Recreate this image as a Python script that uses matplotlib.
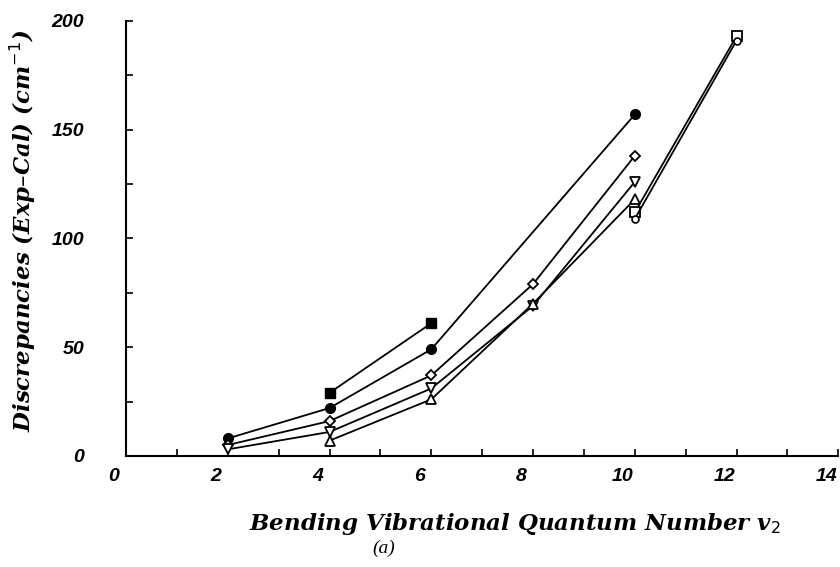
import matplotlib
matplotlib.use("Agg")
import matplotlib.pyplot as plt
import matplotlib.transforms as mtransforms
from matplotlib.ticker import MultipleLocator

# bending quantum number v2 and discrepancies (exp - cal), cm-1
x_fsquare = [4, 6]
y_fsquare = [29, 61]

x_fcircle = [2, 4, 6, 10]
y_fcircle = [8, 22, 49, 157]

x_diamond = [2, 4, 6, 8, 10]
y_diamond = [5, 16, 37, 79, 138]

x_dtri = [2, 4, 6, 8, 10]
y_dtri = [3, 11, 31, 69, 126]

x_utri = [4, 6, 8, 10]
y_utri = [7, 26, 70, 118]

x_osquare = [10, 12]
y_osquare = [112, 193]

x_ocircle = [10, 12]
y_ocircle = [109, 191]

fig = plt.figure(figsize=(8.4, 5.67), dpi=100)
ax = fig.add_axes([0.15, 0.196, 0.848, 0.767])

lw = 1.3
ms = 6.5
ax.plot(x_fsquare, y_fsquare, "-s", color="black", lw=lw, ms=ms, mfc="black")
ax.plot(x_fcircle, y_fcircle, "-o", color="black", lw=lw, ms=ms + 0.5, mfc="black")
ax.plot(x_diamond, y_diamond, "-D", color="black", lw=lw, ms=ms - 1, mfc="white", mew=1.3)
ax.plot(x_dtri, y_dtri, "-v", color="black", lw=lw, ms=ms, mfc="white", mew=1.3)
ax.plot(x_utri, y_utri, "-^", color="black", lw=lw, ms=ms, mfc="white", mew=1.3)
ax.plot(x_osquare, y_osquare, "-s", color="black", lw=lw, ms=ms, mfc="white", mew=1.3)
ax.plot(x_ocircle, y_ocircle, "-o", color="black", lw=lw, ms=ms - 1.5, mfc="white", mew=1.2)

ax.set_xlim(0, 14)
ax.set_ylim(0, 200)
ax.spines["top"].set_visible(False)
ax.spines["right"].set_visible(False)
ax.spines["left"].set_linewidth(1.5)
ax.spines["bottom"].set_linewidth(1.5)

ax.xaxis.set_major_locator(MultipleLocator(2))
ax.xaxis.set_minor_locator(MultipleLocator(1))
ax.yaxis.set_major_locator(MultipleLocator(50))
ax.yaxis.set_minor_locator(MultipleLocator(25))
ax.tick_params(which="both", direction="in", width=1.2, length=5)
ax.tick_params(axis="x", which="major", pad=9)
ax.tick_params(axis="y", which="major", pad=30)

tick_font = dict(family="Liberation Sans", weight="bold", style="italic", size=14)
ax.set_xticks(range(0, 15, 2))
ax.set_xticklabels([str(v) for v in range(0, 15, 2)], **tick_font)
ax.set_yticks(range(0, 201, 50))
ax.set_yticklabels([str(v) for v in range(0, 201, 50)], **tick_font)

shift = mtransforms.ScaledTranslation(-12 / 100, 0, fig.dpi_scale_trans)
for lbl in ax.get_xticklabels():
    lbl.set_transform(lbl.get_transform() + shift)

label_font = dict(family="DejaVu Serif", weight="bold", style="italic", size=16.5)
fig.text(0.613, 0.076, "Bending Vibrational Quantum Number v$_2$",
         ha="center", va="center", **label_font)
fig.text(0.027, 0.594, "Discrepancies (Exp\u2013Cal) (cm$^{-1}$)", rotation=90,
         ha="center", va="center", **label_font)
fig.text(0.457, 0.033, "(a)", ha="center", va="center",
         family="Liberation Serif", style="italic", size=14)

fig.savefig("out.png", dpi=100)
